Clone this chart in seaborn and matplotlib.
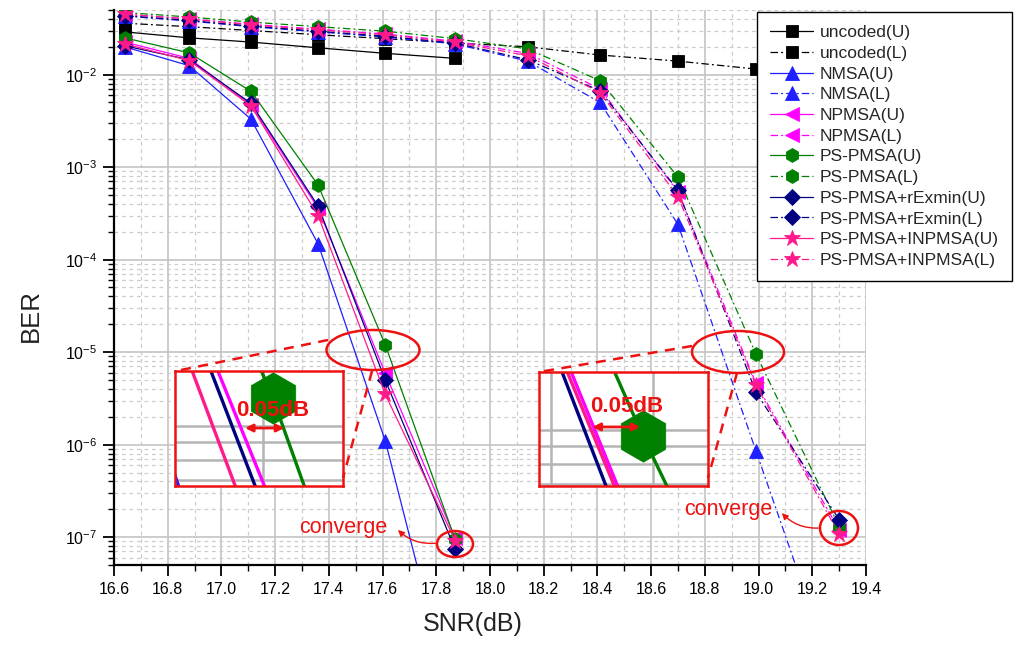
import numpy as np
import matplotlib
matplotlib.use("Agg")
import matplotlib.pyplot as plt
import seaborn as sns
from matplotlib.patches import Ellipse, FancyArrowPatch
from matplotlib.lines import Line2D
from matplotlib.ticker import (LogLocator, MultipleLocator, NullFormatter, FixedLocator,
                               LogFormatterSciNotation, FormatStrFormatter)

# ---------------- data ----------------
snr_U = [16.64, 16.88, 17.11, 17.36, 17.61, 17.87]
snr_L = [16.64, 16.88, 17.11, 17.36, 17.61, 17.87, 18.14, 18.41, 18.70, 18.99, 19.30]

uncoded_U = [2.9e-2, 2.5e-2, 2.25e-2, 1.95e-2, 1.7e-2, 1.5e-2]
nmsa_U    = [2.0e-2, 1.25e-2, 3.3e-3, 1.48e-4, 1.1e-6, 1.2e-9]
npmsa_U   = [2.25e-2, 1.5e-2, 4.7e-3, 3.6e-4, 5.9e-6, 9.8e-8]
pspmsa_U  = [2.5e-2, 1.72e-2, 6.6e-3, 6.4e-4, 1.2e-5, 9.5e-8]
rexmin_U  = [2.05e-2, 1.45e-2, 4.9e-3, 3.8e-4, 5.0e-6, 7.4e-8]
inpmsa_U  = [2.15e-2, 1.42e-2, 4.6e-3, 3.0e-4, 3.5e-6, 9.2e-8]

uncoded_L = [3.6e-2, 3.3e-2, 3.0e-2, 2.7e-2, 2.45e-2, 2.2e-2, 2.0e-2, 1.63e-2, 1.4e-2, 1.15e-2, 1.0e-2]
nmsa_L    = [4.3e-2, 3.8e-2, 3.3e-2, 2.9e-2, 2.55e-2, 2.15e-2, 1.4e-2, 5.0e-3, 2.4e-4, 8.6e-7, 2.2e-9]
npmsa_L   = [4.5e-2, 4.0e-2, 3.5e-2, 3.1e-2, 2.75e-2, 2.3e-2, 1.7e-2, 7.0e-3, 5.4e-4, 4.6e-6, 1.2e-7]
pspmsa_L  = [4.7e-2, 4.2e-2, 3.7e-2, 3.3e-2, 2.95e-2, 2.45e-2, 1.9e-2, 8.6e-3, 7.8e-4, 9.6e-6, 1.3e-7]
rexmin_L  = [4.35e-2, 3.85e-2, 3.35e-2, 2.95e-2, 2.6e-2, 2.2e-2, 1.45e-2, 6.7e-3, 5.6e-4, 3.7e-6, 1.55e-7]
inpmsa_L  = [4.5e-2, 4.0e-2, 3.45e-2, 3.05e-2, 2.7e-2, 2.25e-2, 1.6e-2, 6.4e-3, 4.8e-4, 4.4e-6, 1.08e-7]

names = ["uncoded", "NMSA", "NPMSA", "PS-PMSA", "PS-PMSA+rExmin", "PS-PMSA+INPMSA"]
values_U = [uncoded_U, nmsa_U, npmsa_U, pspmsa_U, rexmin_U, inpmsa_U]
values_L = [uncoded_L, nmsa_L, npmsa_L, pspmsa_L, rexmin_L, inpmsa_L]

xticks = [16.6, 16.8, 17.0, 17.2, 17.4, 17.6, 17.8, 18.0, 18.2, 18.4, 18.6, 18.8, 19.0, 19.2, 19.4]
yticks = [1e-7, 1e-6, 1e-5, 1e-4, 1e-3, 1e-2]

# ---------------- styles ----------------
colors  = ["black", "#1f1fff", "#ff00ff", "#008000", "#000080", "#ff1a8c"]
markers = ["s", "^", "<", "h", "D", "*"]
msizes  = [8.5, 10, 10, 10, 8.5, 12]
DASHDOT = (0, (6, 2.5, 1.5, 2.5))

sns.set_theme(style="white")
plt.rcParams['font.family'] = ['Liberation Sans', 'DejaVu Sans']
plt.rcParams['mathtext.fontset'] = 'custom'
plt.rcParams['mathtext.rm'] = 'Liberation Sans'
plt.rcParams['mathtext.it'] = 'Liberation Sans:italic'
plt.rcParams['mathtext.bf'] = 'Liberation Sans:bold'
plt.rcParams['mathtext.sf'] = 'Liberation Sans'

W, H = 1019, 645
fig = plt.figure(figsize=(W / 100, H / 100), dpi=100)
fig.patch.set_facecolor("white")


def fx(px):
    return px / W


def fy(py):
    return 1 - py / H


ax = fig.add_axes([fx(114), fy(565), fx(866) - fx(114), fy(10) - fy(565)])
ax.set_yscale("log")

for name, c, m, ms, yU, yL in zip(names, colors, markers, msizes, values_U, values_L):
    sns.lineplot(x=snr_U[:len(yU)], y=yU, ax=ax, color=c, marker=m, markersize=ms,
                 markeredgecolor=c, markeredgewidth=0.6, linewidth=0.9, linestyle="-",
                 label=f"{name}(U)", sort=False, estimator=None)
    sns.lineplot(x=snr_L[:len(yL)], y=yL, ax=ax, color=c, marker=m, markersize=ms,
                 markeredgecolor=c, markeredgewidth=0.6, linewidth=0.9, linestyle=DASHDOT,
                 label=f"{name}(L)", sort=False, estimator=None)

ax.set_xlim(16.6, 19.4)
ax.set_ylim(5e-8, 5e-2)
ax.set_xticks(xticks)
ax.xaxis.set_major_formatter(FormatStrFormatter("%.1f"))
ax.xaxis.set_minor_locator(MultipleLocator(0.1))
ax.yaxis.set_major_locator(FixedLocator(yticks))
ax.yaxis.set_minor_locator(LogLocator(base=10, subs=np.arange(2, 10), numticks=50))
ax.yaxis.set_major_formatter(LogFormatterSciNotation())
ax.yaxis.set_minor_formatter(NullFormatter())

ax.set_axisbelow(True)
ax.grid(which="major", color="#c4c4c4", linewidth=1.2, linestyle="-")
ax.grid(which="minor", color="#cccccc", linewidth=0.9, linestyle=(0, (3, 3)))
for s in ["top", "right"]:
    ax.spines[s].set_visible(False)
for s in ["left", "bottom"]:
    ax.spines[s].set_color("black")
    ax.spines[s].set_linewidth(1.6)
ax.tick_params(which="both", bottom=True, left=True, direction="out", color="black")
ax.tick_params(which="major", length=8, width=1.3, labelsize=11.5, labelcolor="black", pad=4)
ax.tick_params(which="minor", length=4.5, width=1.0)

ax.set_xlabel("SNR(dB)", fontsize=18, color="#222222")
ax.set_ylabel("BER", fontsize=18.5, color="#222222")
ax.xaxis.set_label_coords(0.477, -0.085)
ax.yaxis.set_label_coords(-0.095, 0.45)

leg = ax.legend(loc="upper left", bbox_to_anchor=(fx(757), fy(12)), bbox_transform=fig.transFigure,
                frameon=True, fancybox=False, edgecolor="black", framealpha=1, facecolor="white",
                fontsize=12.5, labelspacing=0.32, handlelength=2.5, handletextpad=0.35,
                borderpad=0.75, borderaxespad=0)
leg.get_frame().set_linewidth(1.0)
leg.set_zorder(10)


# ---------------- zoomed insets (same data) ----------------
def make_inset(rect_px, xlim, ylim, xs, series_vals):
    l, t, r, b = rect_px
    iax = fig.add_axes([fx(l), fy(b), fx(r) - fx(l), fy(t) - fy(b)])
    iax.set_yscale("log")
    for name, c, yv in zip(names[1:], colors[1:], series_vals[1:]):
        show_marker = (name == "PS-PMSA")
        sns.lineplot(x=xs[:len(yv)], y=yv, ax=iax, color=c, linewidth=2.4,
                     marker="h" if show_marker else None, markersize=37,
                     markeredgecolor=c, markeredgewidth=0.5,
                     sort=False, estimator=None, legend=False)
    iax.set_xlim(*xlim)
    iax.set_ylim(*ylim)
    iax.xaxis.set_major_locator(MultipleLocator(0.1))
    iax.yaxis.set_major_locator(LogLocator(base=10, subs=np.arange(1, 10), numticks=50))
    iax.yaxis.set_minor_locator(LogLocator(base=10, subs=np.arange(1, 10), numticks=50))
    iax.xaxis.set_major_formatter(NullFormatter())
    iax.yaxis.set_major_formatter(NullFormatter())
    iax.yaxis.set_minor_formatter(NullFormatter())
    iax.set_axisbelow(True)
    iax.grid(which="major", color="#b4b4b4", linewidth=1.8, linestyle="-")
    iax.tick_params(which="both", length=0, labelbottom=False, labelleft=False,
                    labeltop=False, labelright=False)
    iax.set_xlabel("")
    iax.set_ylabel("")
    iax.set_facecolor("white")
    for s in iax.spines.values():
        s.set_visible(True)
        s.set_color("#ee1111")
        s.set_linewidth(1.8)
    return iax


in1 = make_inset((175, 371, 343, 486), (17.514, 17.679), (10 ** -5.171, 10 ** -4.844), snr_U, values_U)
in2 = make_inset((539, 372, 708, 486), (18.888, 19.054), (10 ** -5.16, 10 ** -4.835), snr_L, values_L)

RED = "#ee1111"
for iax, txy, ay, ax0, ax1 in [(in1, (0.58, 0.66), 0.504, 0.40, 0.667),
                               (in2, (0.52, 0.70), 0.518, 0.30, 0.615)]:
    iax.text(*txy, "0.05dB", transform=iax.transAxes, color=RED, fontsize=16,
             fontweight="bold", ha="center", va="center", zorder=5)
    iax.add_patch(FancyArrowPatch((ax0, ay), (ax1, ay), transform=iax.transAxes,
                                  arrowstyle="<|-|>", mutation_scale=11, color=RED,
                                  linewidth=2.0, zorder=5))

# ellipses highlighting zoom regions
for (cx, cy, w, h) in [(373, 350, 93, 40), (738, 352, 92, 42)]:
    fig.add_artist(Ellipse((fx(cx), fy(cy)), w / W, h / H, transform=fig.transFigure,
                           fill=False, edgecolor=RED, linewidth=1.8, zorder=5))

# dashed connectors
for (x0, y0, x1, y1) in [(328, 340, 176, 371), (372, 371, 343, 478),
                         (692, 346, 539, 372), (737, 373, 708, 478)]:
    fig.add_artist(Line2D([fx(x0), fx(x1)], [fy(y0), fy(y1)], transform=fig.transFigure,
                          color=RED, linestyle=(0, (4, 3)), linewidth=1.8, zorder=5))

# converge circles + labels
for (cx, cy, w, h) in [(455, 544, 36, 26), (839, 528, 38, 34)]:
    fig.add_artist(Ellipse((fx(cx), fy(cy)), w / W, h / H, transform=fig.transFigure,
                           fill=False, edgecolor=RED, linewidth=1.8, zorder=5))

for (tx, ty, a0, a1) in [(343, 527, (438, 543), (396, 528)),
                         (728, 510, (821, 528), (780, 511))]:
    fig.text(fx(tx), fy(ty), "converge", color=RED, fontsize=15.5, ha="center", va="center")
    fig.add_artist(FancyArrowPatch((fx(a0[0]), fy(a0[1])), (fx(a1[0]), fy(a1[1])),
                                   transform=fig.transFigure, arrowstyle="-|>",
                                   mutation_scale=9, color=RED, linewidth=1.0,
                                   connectionstyle="arc3,rad=-0.25", zorder=5))

fig.savefig("out.png", dpi=100, facecolor="white")
